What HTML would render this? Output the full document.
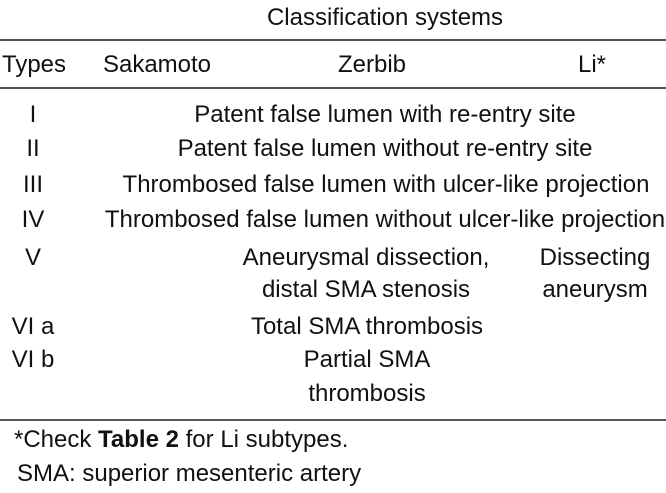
<!DOCTYPE html>
<html><head><style>
body{margin:0;width:666px;height:493px;background:#fff;position:relative;overflow:hidden;font-family:"Liberation Sans",Arial,sans-serif;font-size:24px;color:#111}
.t{position:absolute;white-space:nowrap;transform:translate(-50%,-50%);line-height:1}
.l{position:absolute;white-space:nowrap;transform:translateY(-50%);line-height:1}
.h{position:absolute;left:0;width:666px;height:2px;background:#555}
</style></head><body>
<div class="t" style="left:385px;top:18px">Classification systems</div>
<div class="h" style="top:39px"></div>
<div class="t" style="left:34px;top:65px">Types</div>
<div class="t" style="left:157px;top:65px">Sakamoto</div>
<div class="t" style="left:372px;top:65px">Zerbib</div>
<div class="t" style="left:592px;top:65px">Li*</div>
<div class="h" style="top:87px"></div>
<div class="t" style="left:33px;top:115px">I</div>
<div class="t" style="left:385px;top:115px">Patent false lumen with re-entry site</div>
<div class="t" style="left:33px;top:149px">II</div>
<div class="t" style="left:385px;top:149px">Patent false lumen without re-entry site</div>
<div class="t" style="left:33px;top:185px">III</div>
<div class="t" style="left:386px;top:185px">Thrombosed false lumen with ulcer-like projection</div>
<div class="t" style="left:33px;top:220px">IV</div>
<div class="t" style="left:385px;top:220px">Thrombosed false lumen without ulcer-like projection</div>
<div class="t" style="left:33px;top:258px">V</div>
<div class="t" style="left:366px;top:258px">Aneurysmal dissection,</div>
<div class="t" style="left:366px;top:290px">distal SMA stenosis</div>
<div class="t" style="left:595px;top:258px">Dissecting</div>
<div class="t" style="left:595px;top:290px">aneurysm</div>
<div class="t" style="left:33px;top:327px">VI a</div>
<div class="t" style="left:367px;top:327px">Total SMA thrombosis</div>
<div class="t" style="left:33px;top:360px">VI b</div>
<div class="t" style="left:367px;top:360px">Partial SMA</div>
<div class="t" style="left:367px;top:394px">thrombosis</div>
<div class="h" style="top:419px"></div>
<div class="l" style="left:14px;top:440px">*Check <b>Table 2</b> for Li subtypes.</div>
<div class="l" style="left:17px;top:474px">SMA: superior mesenteric artery</div>
</body></html>
